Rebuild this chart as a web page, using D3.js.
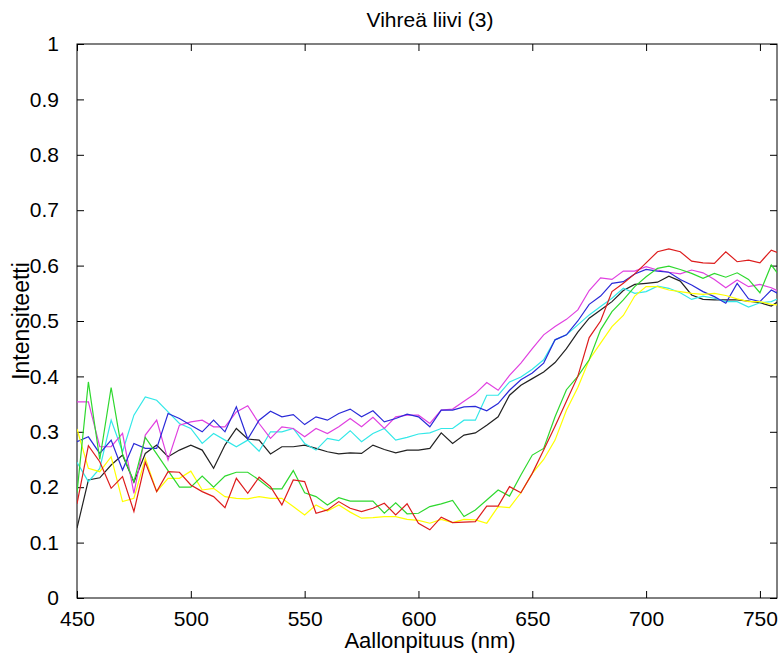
<!DOCTYPE html>
<html>
<head>
<meta charset="utf-8">
<script src="https://cdn.jsdelivr.net/npm/d3@7"></script>
<style>
  body { margin: 0; background: #fff; }
  text { font-family: "Liberation Sans", Arial, sans-serif; fill: #000; }
</style>
</head>
<body>
<div id="chart"></div>
<script>
// wavelengths 450..760 nm, step 5
var wavelengths = d3.range(450, 761, 5);

var red = [0.17,0.275,0.246,0.198,0.219,0.156,0.245,0.192,0.228,0.227,0.204,0.192,0.183,0.163,0.216,0.189,0.218,0.201,0.168,0.213,0.21,0.153,0.159,0.174,0.162,0.156,0.162,0.171,0.15,0.17,0.135,0.123,0.146,0.136,0.137,0.138,0.166,0.166,0.201,0.19,0.225,0.267,0.31,0.355,0.40,0.47,0.50,0.553,0.568,0.585,0.605,0.625,0.63,0.625,0.608,0.605,0.604,0.625,0.607,0.61,0.605,0.628,0.62];
var green = [0.19,0.39,0.25,0.38,0.26,0.21,0.29,0.26,0.23,0.20,0.20,0.22,0.20,0.22,0.227,0.227,0.213,0.197,0.197,0.23,0.19,0.183,0.168,0.181,0.175,0.175,0.175,0.153,0.172,0.152,0.153,0.165,0.17,0.176,0.147,0.159,0.177,0.195,0.184,0.222,0.258,0.27,0.327,0.376,0.40,0.43,0.484,0.517,0.538,0.562,0.58,0.595,0.599,0.593,0.586,0.577,0.586,0.579,0.587,0.575,0.551,0.601,0.574];
var yellow = [0.305,0.234,0.228,0.255,0.174,0.18,0.252,0.192,0.216,0.216,0.229,0.195,0.198,0.183,0.18,0.179,0.183,0.18,0.18,0.165,0.15,0.168,0.157,0.168,0.155,0.144,0.145,0.147,0.147,0.142,0.14,0.135,0.142,0.136,0.142,0.141,0.135,0.165,0.163,0.19,0.225,0.25,0.285,0.339,0.38,0.43,0.46,0.49,0.51,0.545,0.562,0.562,0.556,0.553,0.55,0.548,0.55,0.546,0.54,0.535,0.535,0.53,0.528];
var blue = [0.282,0.291,0.261,0.285,0.231,0.279,0.27,0.27,0.333,0.324,0.312,0.3,0.321,0.3,0.345,0.287,0.321,0.337,0.327,0.331,0.313,0.327,0.321,0.333,0.341,0.327,0.338,0.318,0.324,0.332,0.327,0.309,0.339,0.339,0.345,0.346,0.338,0.351,0.375,0.394,0.406,0.424,0.466,0.475,0.5,0.53,0.545,0.568,0.571,0.585,0.593,0.59,0.588,0.575,0.565,0.553,0.544,0.532,0.568,0.54,0.535,0.556,0.545];
var magenta = [0.354,0.354,0.273,0.273,0.297,0.189,0.294,0.321,0.249,0.312,0.318,0.321,0.309,0.309,0.336,0.347,0.315,0.288,0.309,0.306,0.291,0.306,0.297,0.309,0.324,0.309,0.326,0.306,0.327,0.33,0.33,0.315,0.339,0.341,0.355,0.369,0.389,0.375,0.402,0.424,0.45,0.475,0.49,0.503,0.52,0.555,0.578,0.575,0.59,0.59,0.598,0.592,0.588,0.585,0.592,0.587,0.575,0.56,0.574,0.562,0.566,0.56,0.55];
var cyan = [0.245,0.21,0.234,0.321,0.264,0.33,0.363,0.357,0.336,0.315,0.306,0.279,0.297,0.285,0.273,0.285,0.265,0.3,0.3,0.306,0.279,0.267,0.288,0.284,0.302,0.282,0.297,0.306,0.285,0.29,0.296,0.298,0.306,0.306,0.321,0.321,0.366,0.366,0.39,0.399,0.413,0.43,0.466,0.475,0.493,0.511,0.526,0.541,0.559,0.55,0.553,0.563,0.559,0.551,0.539,0.545,0.541,0.535,0.535,0.525,0.533,0.535,0.544];
var black = [0.126,0.213,0.217,0.24,0.258,0.209,0.261,0.276,0.255,0.267,0.276,0.267,0.234,0.276,0.306,0.287,0.285,0.26,0.273,0.273,0.276,0.27,0.264,0.26,0.262,0.261,0.276,0.268,0.262,0.267,0.267,0.27,0.298,0.279,0.294,0.298,0.312,0.327,0.366,0.384,0.396,0.408,0.425,0.45,0.48,0.505,0.52,0.535,0.555,0.566,0.568,0.57,0.581,0.572,0.547,0.539,0.538,0.538,0.538,0.536,0.533,0.527,0.541];

var xTicks = [450, 500, 550, 600, 650, 700, 750];
var yTicks = [0, 0.1, 0.2, 0.3, 0.4, 0.5, 0.6, 0.7, 0.8, 0.9, 1];

var series = [
  {name: "black", color: "#222222", values: black},
  {name: "cyan", color: "#33e8e8", values: cyan},
  {name: "magenta", color: "#e040e0", values: magenta},
  {name: "blue", color: "#2a2ad8", values: blue},
  {name: "yellow", color: "#ffff00", values: yellow},
  {name: "green", color: "#2ed82e", values: green},
  {name: "red", color: "#dd1c1c", values: red}
];

function draw_spectra(chart_id, margin, width, height) {

var x = d3.scaleLinear()
    .domain([450, 757.5])
    .range([0, width]);

var y = d3.scaleLinear()
    .domain([0, 1])
    .range([height, 0]);

var svg = d3.select("#" + chart_id)
  .append("svg")
    .attr("width", width + margin.left + margin.right)
    .attr("height", height + margin.top + margin.bottom)
  .append("g")
    .attr("transform", "translate(" + margin.left + "," + margin.top + ")");

svg.append("clipPath")
    .attr("id", "clip")
  .append("rect")
    .attr("width", width)
    .attr("height", height);

// bottom axis, ticks pointing in
svg.append("g")
    .attr("transform", "translate(0," + height + ")")
    .call(d3.axisBottom(x).tickValues(xTicks).tickSize(-7).tickPadding(13).tickFormat(d3.format("d")))
    .call(function(g) {
      g.select(".domain").remove();
      g.selectAll("text").attr("font-size", "21px").attr("font-family", null);
    });

svg.append("g")
    .call(d3.axisLeft(y).tickValues(yTicks).tickSize(-7).tickPadding(18).tickFormat(function(d) { return d3.format("")(+d.toFixed(1)); }))
    .call(function(g) {
      g.select(".domain").remove();
      g.selectAll("text").attr("font-size", "21px").attr("font-family", null);
    });

// mirrored ticks on top and right
svg.append("g")
    .call(d3.axisTop(x).tickValues(xTicks).tickSize(-7).tickFormat(""))
    .call(function(g) { g.select(".domain").remove(); });

svg.append("g")
    .attr("transform", "translate(" + width + ",0)")
    .call(d3.axisRight(y).tickValues(yTicks).tickSize(-7).tickFormat(""))
    .call(function(g) { g.select(".domain").remove(); });

svg.append("rect")
    .attr("width", width)
    .attr("height", height)
    .attr("fill", "none")
    .attr("stroke", "#000")
    .attr("stroke-width", 1);

var line = d3.line()
    .x(function(d, i) { return x(wavelengths[i]); })
    .y(function(d) { return y(d); });

svg.append("g")
    .attr("clip-path", "url(#clip)")
  .selectAll("path")
  .data(series)
  .enter().append("path")
    .attr("fill", "none")
    .attr("stroke", function(d) { return d.color; })
    .attr("stroke-width", 1.2)
    .attr("d", function(d) { return line(d.values); });

svg.append("text")
    .attr("x", width / 2 + 3)
    .attr("y", -17)
    .attr("text-anchor", "middle")
    .attr("font-size", "21px")
    .text("Vihreä liivi (3)");

svg.append("text")
    .attr("x", width / 2 + 3)
    .attr("y", height + 50)
    .attr("text-anchor", "middle")
    .attr("font-size", "22px")
    .text("Aallonpituus (nm)");

svg.append("text")
    .attr("transform", "translate(" + (-48) + "," + (height / 2) + ") rotate(-90)")
    .attr("text-anchor", "middle")
    .attr("font-size", "23px")
    .text("Intensiteetti");
}

draw_spectra("chart", {top: 44, right: 2, bottom: 64, left: 77}, 700, 554);
</script>
</body>
</html>
